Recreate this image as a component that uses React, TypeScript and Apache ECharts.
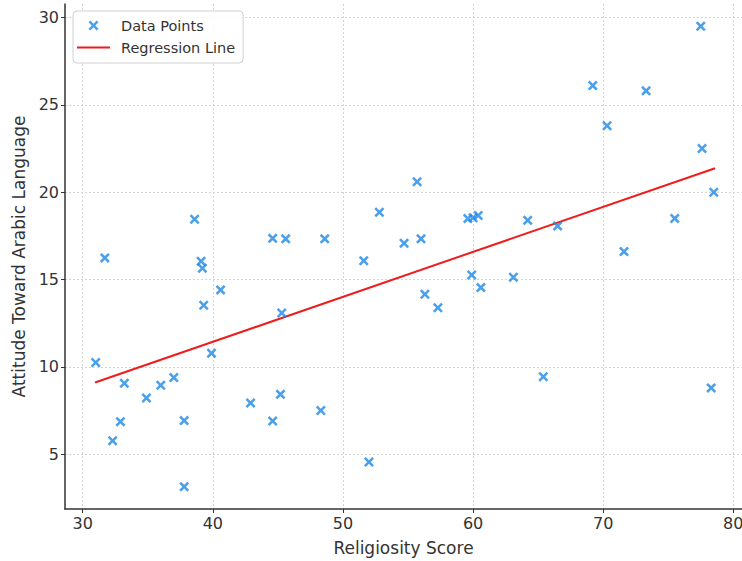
import React, { useEffect, useRef } from "react";
import * as echarts from "echarts";

// Religiosity score (x) and attitude toward Arabic language (y)
const religiosity = [
  31.0, 31.7, 32.3, 32.9, 33.2, 34.9, 36.0, 37.0, 37.8, 37.8,
  38.6, 39.1, 39.2, 39.3, 39.9, 40.6, 42.9, 44.6, 44.6, 45.6,
  45.3, 45.2, 48.6, 48.3, 51.6, 52.0, 52.8, 54.7, 55.7, 56.0,
  56.3, 57.3, 59.6, 60.0, 60.4, 59.9, 60.6, 63.1, 64.2, 65.4,
  66.5, 69.2, 70.3, 71.6, 73.3, 75.5, 77.5, 77.6, 78.3, 78.5,
];
const attitude = [
  10.25, 16.24, 5.78, 6.87, 9.07, 8.22, 8.95, 9.39, 6.93, 3.15,
  18.45, 16.05, 15.65, 13.53, 10.78, 14.41, 7.94, 17.36, 6.91, 17.33,
  13.09, 8.43, 17.33, 7.51, 16.08, 4.56, 18.85, 17.08, 20.6, 17.33,
  14.16, 13.39, 18.49, 18.54, 18.67, 15.26, 14.54, 15.13, 18.39, 9.44,
  18.07, 26.1, 23.8, 16.6, 25.8, 18.5, 29.5, 22.5, 8.8, 20.0,
];
// Regression line endpoints
const regressionX = [30.95, 78.6];
const regressionY = [9.11, 21.37];

const xTicks = [30, 40, 50, 60, 70, 80];
const yTicks = [5, 10, 15, 20, 25, 30];

const X_PATH =
  "M0,1.8L1.8,0L5,3.2L8.2,0L10,1.8L6.8,5L10,8.2L8.2,10L5,6.8L1.8,10L0,8.2L3.2,5Z";
const X_MARK = "path://" + X_PATH;
const X_LEGEND = "path://M-2,-2L-2,-2ZM12,12L12,12Z" + X_PATH;
const LINE_LEGEND = "path://M0,6L33,6L33,8L0,8ZM0,0L0,0ZM33,14L33,14Z";

export default function App() {
  const ref = useRef<HTMLDivElement>(null);
  useEffect(() => {
    if (!ref.current) return;
    const chart = echarts.init(ref.current, null, { renderer: "svg" });
    const font = "DejaVu Sans";
    const axisColor = "#333333";
    const scatterData = religiosity.map((x, i) => [x, attitude[i]]);
    const lineData = regressionX.map((x, i) => [x, regressionY[i]]);
    chart.setOption({
      animation: false,
      backgroundColor: "#ffffff",
      textStyle: { fontFamily: font },
      grid: {
        left: 65,
        right: 0,
        top: 4,
        bottom: 52,
        containLabel: false,
        outerBoundsMode: "none",
      },
      xAxis: {
        type: "value",
        min: 28.64,
        max: 80.67,
        name: "Religiosity Score",
        nameLocation: "middle",
        nameGap: 30,
        nameTextStyle: { fontSize: 17, color: axisColor, fontFamily: font },
        axisLine: { show: true, lineStyle: { color: axisColor, width: 1.5 } },
        axisTick: { show: true, length: 4, lineStyle: { color: axisColor }, customValues: xTicks },
        axisLabel: { fontSize: 16, color: axisColor, margin: 6, fontFamily: font, customValues: xTicks },
        splitLine: { show: true, lineStyle: { color: "#d4d4d4", type: [2, 2], width: 1 } },
      },
      yAxis: {
        type: "value",
        min: 1.87,
        max: 30.77,
        name: "Attitude Toward Arabic Language",
        nameLocation: "middle",
        nameGap: 38,
        nameTextStyle: { fontSize: 17, color: axisColor, fontFamily: font },
        axisLine: { show: true, lineStyle: { color: axisColor, width: 1.5 } },
        axisTick: { show: true, length: 4, lineStyle: { color: axisColor }, customValues: yTicks },
        axisLabel: { fontSize: 16, color: axisColor, margin: 6, fontFamily: font, customValues: yTicks },
        splitLine: { show: true, lineStyle: { color: "#d4d4d4", type: [2, 2], width: 1 } },
      },
      legend: {
        left: 73,
        top: 11,
        orient: "vertical",
        padding: [7, 8, 8, 4],
        itemWidth: 33,
        itemHeight: 14,
        itemGap: 7,
        backgroundColor: "rgba(255,255,255,0.85)",
        borderColor: "#d0d0d0",
        borderWidth: 1,
        borderRadius: 4,
        textStyle: { fontSize: 14.5, color: axisColor, fontFamily: font, padding: [0, 0, 0, 6] },
        data: [
          { name: "Data Points", icon: X_LEGEND },
          { name: "Regression Line", icon: LINE_LEGEND },
        ],
      },
      series: [
        {
          name: "Data Points",
          type: "scatter",
          symbol: X_MARK,
          symbolSize: 10,
          symbolKeepAspect: true,
          itemStyle: { color: "#1e88e5" },
          data: scatterData,
          z: 3,
        },
        {
          name: "Regression Line",
          type: "line",
          symbol: "none",
          showSymbol: false,
          lineStyle: { color: "#ee1c1c", width: 2 },
          itemStyle: { color: "#ee1c1c" },
          data: lineData,
          z: 2,
        },
      ],
    });
    return () => chart.dispose();
  }, []);
  return (
    <div
      ref={ref}
      style={{ position: "fixed", left: 0, top: 0, width: 742, height: 561 }}
    />
  );
}
